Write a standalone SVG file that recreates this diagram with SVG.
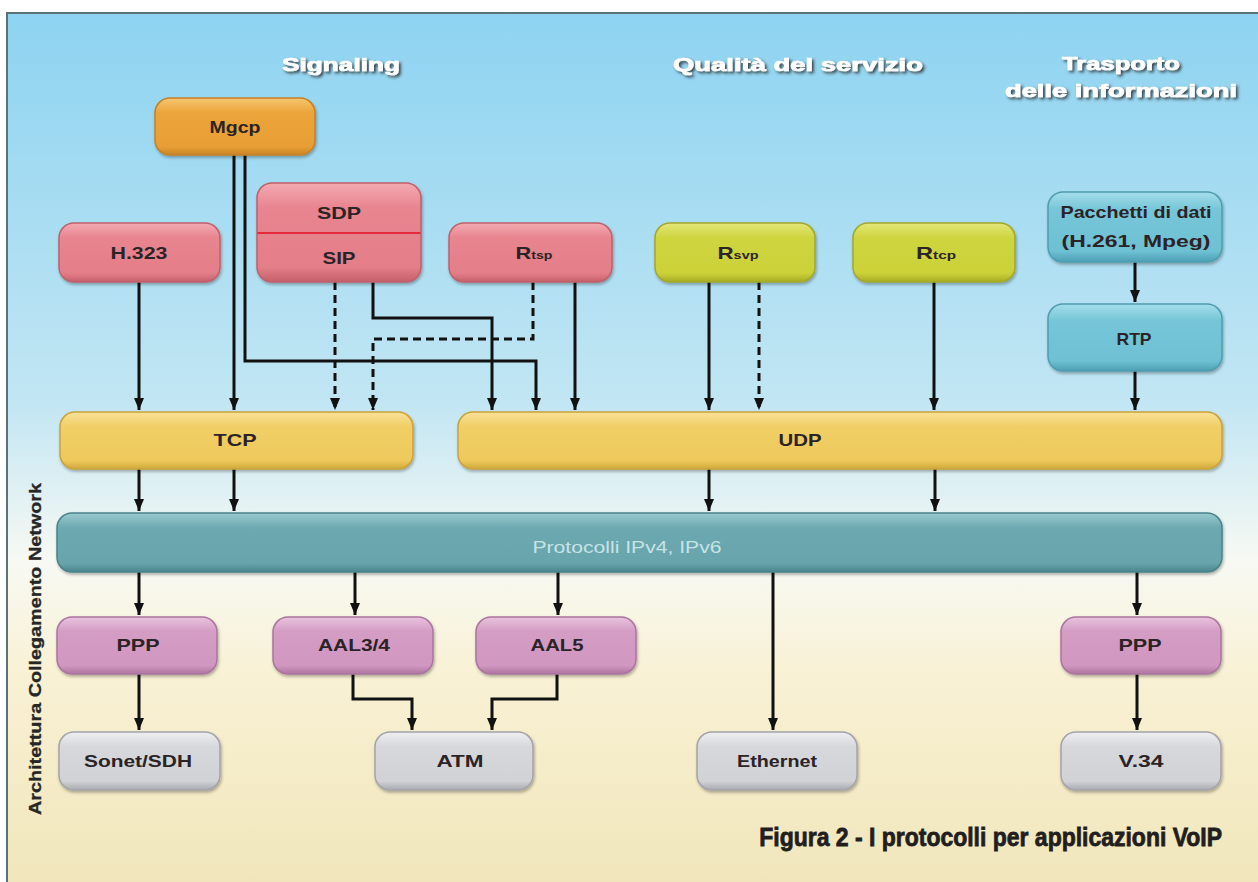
<svg xmlns="http://www.w3.org/2000/svg" width="1258" height="882" viewBox="0 0 1258 882">
<defs>
  <linearGradient id="bg" x1="0" y1="13" x2="0" y2="882" gradientUnits="userSpaceOnUse">
    <stop offset="0" stop-color="#8dd3f1"/>
    <stop offset="0.45" stop-color="#c2e6f3"/>
    <stop offset="0.63" stop-color="#f7f9f3"/>
    <stop offset="0.76" stop-color="#f8f1d4"/>
    <stop offset="1" stop-color="#f1e6bb"/>
  </linearGradient>
  <linearGradient id="gOr" x1="0" y1="0" x2="0" y2="1"><stop offset="0" stop-color="#f6c672"/><stop offset="0.25" stop-color="#eca53b"/><stop offset="0.85" stop-color="#e89e34"/><stop offset="1" stop-color="#c98526"/></linearGradient>
  <linearGradient id="gPk" x1="0" y1="0" x2="0" y2="1"><stop offset="0" stop-color="#f3aab2"/><stop offset="0.25" stop-color="#e8858f"/><stop offset="0.85" stop-color="#e47e89"/><stop offset="1" stop-color="#c4606b"/></linearGradient>
  <linearGradient id="gLm" x1="0" y1="0" x2="0" y2="1"><stop offset="0" stop-color="#e2e67a"/><stop offset="0.25" stop-color="#cfd53e"/><stop offset="0.85" stop-color="#cbd138"/><stop offset="1" stop-color="#a6ab22"/></linearGradient>
  <linearGradient id="gCy" x1="0" y1="0" x2="0" y2="1"><stop offset="0" stop-color="#a6dde9"/><stop offset="0.25" stop-color="#75c6d8"/><stop offset="0.85" stop-color="#6ec0d3"/><stop offset="1" stop-color="#4c9fb3"/></linearGradient>
  <linearGradient id="gYl" x1="0" y1="0" x2="0" y2="1"><stop offset="0" stop-color="#f9e299"/><stop offset="0.25" stop-color="#f1cf66"/><stop offset="0.85" stop-color="#eec95c"/><stop offset="1" stop-color="#d0a83a"/></linearGradient>
  <linearGradient id="gTl" x1="0" y1="0" x2="0" y2="1"><stop offset="0" stop-color="#9acbd0"/><stop offset="0.25" stop-color="#6ca9b0"/><stop offset="0.85" stop-color="#67a4ab"/><stop offset="1" stop-color="#4b858c"/></linearGradient>
  <linearGradient id="gMv" x1="0" y1="0" x2="0" y2="1"><stop offset="0" stop-color="#e8c3dd"/><stop offset="0.25" stop-color="#d49dc4"/><stop offset="0.85" stop-color="#d097c0"/><stop offset="1" stop-color="#ae75a0"/></linearGradient>
  <linearGradient id="gGy" x1="0" y1="0" x2="0" y2="1"><stop offset="0" stop-color="#eeeff1"/><stop offset="0.25" stop-color="#d6d8dc"/><stop offset="0.85" stop-color="#d0d2d6"/><stop offset="1" stop-color="#a8aab0"/></linearGradient>
  <filter id="sh" x="-10%" y="-20%" width="120%" height="150%">
    <feDropShadow dx="1" dy="2" stdDeviation="1.5" flood-color="#000" flood-opacity="0.3"/>
  </filter>
  <filter id="tsh" x="-10%" y="-40%" width="120%" height="180%">
    <feDropShadow dx="2" dy="2" stdDeviation="1.5" flood-color="#2a2a2a" flood-opacity="0.85"/>
  </filter>
  <marker id="ar" viewBox="0 0 10 12" markerWidth="10" markerHeight="12" refX="5" refY="12" orient="0" markerUnits="userSpaceOnUse">
    <path d="M0,0 L10,0 L5,12 z" fill="#111"/>
  </marker>
  <style>
    .box{stroke-width:1.5;filter:url(#sh)}
    .or{fill:url(#gOr);stroke:#c48228}
    .pk{fill:url(#gPk);stroke:#c0606b}
    .lm{fill:url(#gLm);stroke:#a3a82a}
    .cy{fill:url(#gCy);stroke:#4d9db0}
    .yl{fill:url(#gYl);stroke:#c9a23a}
    .tl{fill:url(#gTl);stroke:#4a838a}
    .mv{fill:url(#gMv);stroke:#ab74a0}
    .gy{fill:url(#gGy);stroke:#a2a4aa}
    .lbl{font-family:"Liberation Sans",Arial,sans-serif;font-weight:bold;font-size:17px;fill:#2b2326;text-anchor:middle}
    .hdr{font-family:"Liberation Sans",Arial,sans-serif;font-weight:bold;font-size:18px;fill:#ffffff;stroke:#ffffff;stroke-width:0.7;text-anchor:middle;filter:url(#tsh)}
    .ln{fill:none;stroke:#111;stroke-width:3;marker-end:url(#ar)}
    .ds{stroke-dasharray:8 5}
  </style>
</defs>

<rect x="0" y="0" width="1258" height="882" fill="#ffffff"/>
<rect x="7" y="13" width="1251" height="869" fill="url(#bg)"/>
<path d="M7,882 V13 H1258" fill="none" stroke="#5b7377" stroke-width="2"/>

<g id="headers">
  <text class="hdr" x="341" y="71" textLength="118" lengthAdjust="spacingAndGlyphs">Signaling</text>
  <text class="hdr" x="798" y="71" textLength="250" lengthAdjust="spacingAndGlyphs">Qualità del servizio</text>
  <text class="hdr" x="1121" y="70" textLength="118" lengthAdjust="spacingAndGlyphs">Trasporto</text>
  <text class="hdr" x="1121" y="97" textLength="232" lengthAdjust="spacingAndGlyphs">delle informazioni</text>
</g>

<g id="connectors">
  <path class="ln" d="M139,282 V410"/>
  <path class="ln" d="M234,155 V410"/>
  <path class="ln" d="M245,155 V361 H536 V410"/>
  <path class="ln ds" d="M335,282 V410"/>
  <path class="ln" d="M373,282 V318 H492 V410"/>
  <path class="ln ds" d="M533,282 V339 H373 V410"/>
  <path class="ln" d="M575,282 V410"/>
  <path class="ln" d="M709,282 V410"/>
  <path class="ln ds" d="M759,282 V410"/>
  <path class="ln" d="M934,282 V410"/>
  <path class="ln" d="M1135,262 V302"/>
  <path class="ln" d="M1135,371 V410"/>
  <path class="ln" d="M139,469 V511"/>
  <path class="ln" d="M234,469 V511"/>
  <path class="ln" d="M709,469 V511"/>
  <path class="ln" d="M935,469 V511"/>
  <path class="ln" d="M139,572 V615"/>
  <path class="ln" d="M355,572 V615"/>
  <path class="ln" d="M558,572 V615"/>
  <path class="ln" d="M773,572 V730"/>
  <path class="ln" d="M1137,572 V615"/>
  <path class="ln" d="M139,674 V730"/>
  <path class="ln" d="M353,674 V699 H412 V730"/>
  <path class="ln" d="M557,674 V699 H492 V730"/>
  <path class="ln" d="M1137,674 V730"/>
</g>

<g id="mgcp"><rect class="box or" x="155" y="98" width="160" height="57" rx="15"/><text class="lbl" x="235" y="133" textLength="51" lengthAdjust="spacingAndGlyphs">Mgcp</text></g>
<g id="h323"><rect class="box pk" x="59" y="223" width="161" height="59" rx="15"/><text class="lbl" x="139" y="259" textLength="57" lengthAdjust="spacingAndGlyphs">H.323</text></g>
<g id="sdp-sip"><rect class="box pk" x="257" y="183" width="164" height="99" rx="15"/><line x1="257.5" y1="233" x2="420.5" y2="233" stroke="#e3293a" stroke-width="2"/><text class="lbl" x="339" y="219" textLength="44" lengthAdjust="spacingAndGlyphs">SDP</text><text class="lbl" x="339" y="264" textLength="33" lengthAdjust="spacingAndGlyphs">SIP</text></g>
<g id="rtsp"><rect class="box pk" x="449" y="223" width="163" height="59" rx="15"/><text class="lbl" x="534" y="259" textLength="37" lengthAdjust="spacingAndGlyphs">R<tspan font-size="11">tsp</tspan></text></g>
<g id="rsvp"><rect class="box lm" x="655" y="223" width="160" height="59" rx="15"/><text class="lbl" x="738" y="259" textLength="41" lengthAdjust="spacingAndGlyphs">R<tspan font-size="11">svp</tspan></text></g>
<g id="rtcp"><rect class="box lm" x="853" y="223" width="162" height="59" rx="15"/><text class="lbl" x="936" y="259" textLength="40" lengthAdjust="spacingAndGlyphs">R<tspan font-size="11">tcp</tspan></text></g>
<g id="pacchetti"><rect class="box cy" x="1048" y="192" width="174" height="70" rx="15"/><text class="lbl" x="1136" y="218" textLength="151" lengthAdjust="spacingAndGlyphs">Pacchetti di dati</text><text class="lbl" x="1136" y="247" textLength="149" lengthAdjust="spacingAndGlyphs">(H.261, Mpeg)</text></g>
<g id="rtp"><rect class="box cy" x="1048" y="304" width="174" height="67" rx="15"/><text class="lbl" x="1134" y="345" textLength="35" lengthAdjust="spacingAndGlyphs">RTP</text></g>
<g id="tcp"><rect class="box yl" x="60" y="412" width="353" height="57" rx="15"/><text class="lbl" x="235" y="446" textLength="43" lengthAdjust="spacingAndGlyphs">TCP</text></g>
<g id="udp"><rect class="box yl" x="458" y="412" width="764" height="57" rx="15"/><text class="lbl" x="800" y="446" textLength="43" lengthAdjust="spacingAndGlyphs">UDP</text></g>
<g id="ip"><rect class="box tl" x="57" y="513" width="1165" height="59" rx="15"/><text x="627" y="553" font-family="Liberation Sans, Arial, sans-serif" font-size="16" fill="#c6e3e6" text-anchor="middle" textLength="189" lengthAdjust="spacingAndGlyphs">Protocolli IPv4, IPv6</text></g>
<g id="ppp1"><rect class="box mv" x="57" y="617" width="160" height="57" rx="15"/><text class="lbl" x="138" y="651" textLength="43" lengthAdjust="spacingAndGlyphs">PPP</text></g>
<g id="aal34"><rect class="box mv" x="273" y="617" width="160" height="57" rx="15"/><text class="lbl" x="354" y="651" textLength="72" lengthAdjust="spacingAndGlyphs">AAL3/4</text></g>
<g id="aal5"><rect class="box mv" x="476" y="617" width="160" height="57" rx="15"/><text class="lbl" x="557" y="651" textLength="53" lengthAdjust="spacingAndGlyphs">AAL5</text></g>
<g id="ppp2"><rect class="box mv" x="1061" y="617" width="160" height="57" rx="15"/><text class="lbl" x="1140" y="651" textLength="43" lengthAdjust="spacingAndGlyphs">PPP</text></g>
<g id="sonet"><rect class="box gy" x="59" y="732" width="161" height="58" rx="15"/><text class="lbl" x="138" y="767" textLength="108" lengthAdjust="spacingAndGlyphs">Sonet/SDH</text></g>
<g id="atm"><rect class="box gy" x="375" y="732" width="158" height="58" rx="15"/><text class="lbl" x="460" y="767" textLength="47" lengthAdjust="spacingAndGlyphs">ATM</text></g>
<g id="ethernet"><rect class="box gy" x="697" y="732" width="160" height="58" rx="15"/><text class="lbl" x="777" y="767" textLength="80" lengthAdjust="spacingAndGlyphs">Ethernet</text></g>
<g id="v34"><rect class="box gy" x="1061" y="732" width="160" height="58" rx="15"/><text class="lbl" x="1141" y="767" textLength="45" lengthAdjust="spacingAndGlyphs">V.34</text></g>

<g id="side-label"><text x="0" y="0" transform="translate(41,649) rotate(-90)" font-family="Liberation Sans, Arial, sans-serif" font-weight="bold" font-size="16" fill="#262626" stroke="#262626" stroke-width="0.3" text-anchor="middle" textLength="332" lengthAdjust="spacingAndGlyphs">Architettura Collegamento Network</text></g>

<g id="caption" transform="translate(1222,846) scale(0.884,1)"><text x="0" y="0" font-family="Liberation Sans, Arial, sans-serif" font-weight="bold" font-size="26" fill="#221e20" stroke="#221e20" stroke-width="0.8" text-anchor="end">Figura 2 - I protocolli per applicazioni VoIP</text></g>
</svg>
